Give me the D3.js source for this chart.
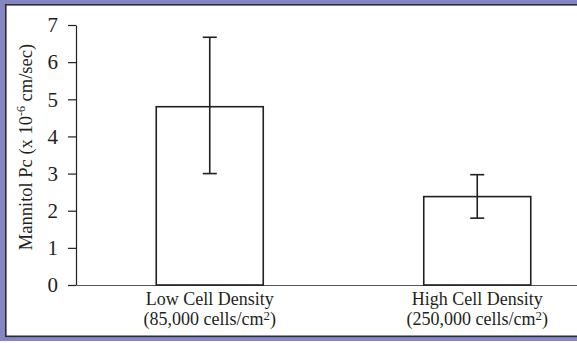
<!DOCTYPE html>
<html>
<head>
<meta charset="utf-8">
<script src="https://cdn.jsdelivr.net/npm/d3@7"></script>
<style>
  body { margin: 0; background: #fff; }
  svg text { font-family: "Liberation Serif", "Times New Roman", serif; fill: #231f20; }
</style>
</head>
<body>
<script>
var categories = ["Low Cell Density", "High Cell Density"];
var subLabels = ["(85,000 cells/cm", "(250,000 cells/cm"];
var means = [4.8, 2.38];
var errLow = [3.0, 1.8];
var errHigh = [6.67, 2.97];
var yTicks = [0, 1, 2, 3, 4, 5, 6, 7];

var width = 577;
var height = 343;
var padLeft = 76, padTop = 25, padBottom = 285;

var svg = d3.select("body")
            .append("svg")
            .attr("width", width)
            .attr("height", height);

// frame
svg.append("rect").attr("x", 0).attr("y", 0).attr("width", width + 10).attr("height", 341)
   .attr("fill", "#8487bf");
svg.append("rect").attr("x", 5.8).attr("y", 4.8).attr("width", width + 10).attr("height", 331.5)
   .attr("fill", "#fff").attr("stroke", "#2b2b3a").attr("stroke-width", 1.6);

var data = categories.map(function(c, i){
  return {cat: c, sub: subLabels[i], mean: means[i], lo: errLow[i], hi: errHigh[i]};
});

var xScale = d3.scaleBand()
               .domain(categories)
               .range([padLeft, 611])
               .paddingInner(0.6)
               .paddingOuter(0.3);

var yScale = d3.scaleLinear()
               .domain([0, 7])
               .range([padBottom, padTop]);

var yAxis = d3.axisLeft(yScale)
              .tickValues(yTicks)
              .tickFormat(d3.format("d"))
              .tickSize(8)
              .tickSizeOuter(0)
              .tickPadding(10);

var gy = svg.append("g")
   .attr("transform", "translate(" + padLeft + ",0)")
   .call(yAxis);
gy.selectAll("path, line").attr("stroke", "#231f20").attr("stroke-width", 1.2);
gy.selectAll("text").attr("font-size", 21).attr("font-family", "Liberation Serif").attr("fill", "#231f20");

var xAxis = d3.axisBottom(xScale).tickSize(0).tickFormat("");
var gx = svg.append("g")
   .attr("transform", "translate(0," + padBottom + ")")
   .call(xAxis);
gx.select(".domain").attr("stroke", "#555").attr("stroke-width", 1.2);

// bars
svg.selectAll("rect.bar")
   .data(data)
   .enter()
   .append("rect")
   .attr("class", "bar")
   .attr("x", function(d){ return xScale(d.cat); })
   .attr("y", function(d){ return yScale(d.mean); })
   .attr("width", xScale.bandwidth())
   .attr("height", function(d){ return yScale(0) - yScale(d.mean); })
   .attr("fill", "none")
   .attr("stroke", "#231f20")
   .attr("stroke-width", 1.6);

// error bars
var err = svg.selectAll("g.err")
   .data(data)
   .enter()
   .append("g")
   .attr("class", "err")
   .attr("stroke", "#231f20")
   .attr("stroke-width", 1.6);
err.append("line")
   .attr("x1", function(d){ return xScale(d.cat) + xScale.bandwidth() / 2; })
   .attr("x2", function(d){ return xScale(d.cat) + xScale.bandwidth() / 2; })
   .attr("y1", function(d){ return yScale(d.lo); })
   .attr("y2", function(d){ return yScale(d.hi); });
err.selectAll("line.cap")
   .data(function(d){ return [d.lo, d.hi].map(function(v){ return {cat: d.cat, v: v}; }); })
   .enter()
   .append("line")
   .attr("class", "cap")
   .attr("x1", function(d){ return xScale(d.cat) + xScale.bandwidth() / 2 - 7; })
   .attr("x2", function(d){ return xScale(d.cat) + xScale.bandwidth() / 2 + 7; })
   .attr("y1", function(d){ return yScale(d.v); })
   .attr("y2", function(d){ return yScale(d.v); });

// category labels
var lab = svg.selectAll("g.lab")
   .data(data)
   .enter()
   .append("g")
   .attr("class", "lab")
   .attr("transform", function(d){ return "translate(" + (xScale(d.cat) + xScale.bandwidth() / 2) + ",0)"; });
lab.append("text")
   .attr("y", 305)
   .attr("text-anchor", "middle")
   .attr("font-size", 18)
   .text(function(d){ return d.cat; });
var l2 = lab.append("text")
   .attr("y", 325)
   .attr("text-anchor", "middle")
   .attr("font-size", 18);
l2.append("tspan").text(function(d){ return d.sub; });
l2.append("tspan").attr("font-size", 13).attr("dy", -5).text("2");
l2.append("tspan").attr("dy", 5).text(")");

// y label
var yl = svg.append("text")
   .attr("transform", "translate(32," + 147 + ") rotate(-90)")
   .attr("text-anchor", "middle")
   .attr("font-size", 18.5);
yl.append("tspan").text("Mannitol Pc (x 10");
yl.append("tspan").attr("font-size", 12).attr("dy", -7).text("-6");
yl.append("tspan").attr("dy", 7).text(" cm/sec)");
</script>
</body>
</html>
